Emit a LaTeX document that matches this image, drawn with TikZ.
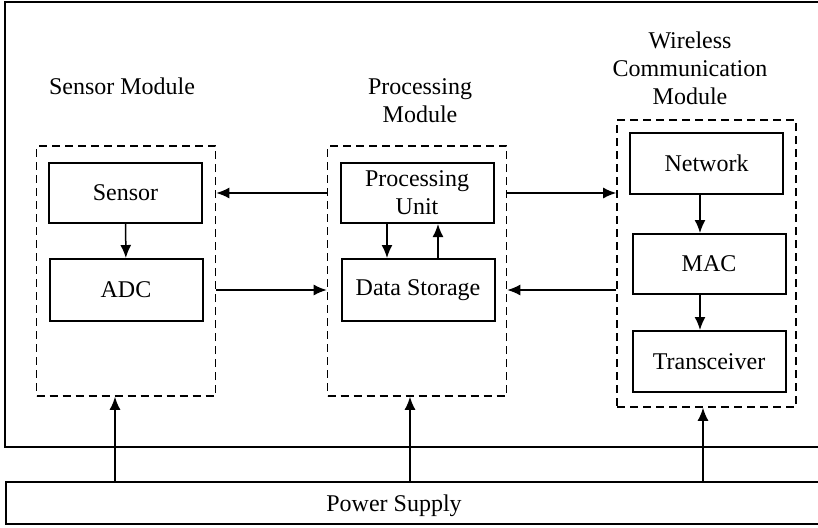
\documentclass[tikz,border=0pt]{standalone}
\usepackage{fontspec}
\setmainfont{Liberation Serif}
\usetikzlibrary{arrows.meta}
\begin{document}
\begin{tikzpicture}
  [x=0.5pt,y=-0.5pt,>={Latex[length=6.5pt,width=5.5pt]},
   every node/.style={font=\fontsize{12}{14}\selectfont},
   unit/.style={draw,line width=1pt,minimum width=76.5pt,minimum height=30pt,inner sep=1pt,align=center},
   module/.style={draw,line width=0.8pt,dash pattern=on 4pt off 2.5pt,minimum width=89.5pt},
   link/.style={->,line width=0.75pt}]
  \useasboundingbox (0,0) rectangle (818,527);
  \clip (0,0) rectangle (818,527);
  \draw[line width=1pt] (5,2) rectangle (826,447);
  % modules
  \node (sensmod)[module,minimum height=125pt] at (126,271) {};
  \node (procmod)[module,minimum height=125pt] at (417,271) {};
  \node (wlmod)[module,minimum height=143.5pt] at (706.5,263.5) {};
  \node (senslbl) at (122,86) {Sensor Module};
  \node (proclbl)[align=center] at (420,101) {Processing\\Module};
  \node (wllbl)[align=center] at (690,68) {Wireless\\Communication\\Module};
  % units
  \node (sensor)[unit] at (125.5,193) {Sensor};
  \node (adc)[unit,minimum height=31pt] at (126,290) {ADC};
  \node (pu)[unit] at (417,193) {Processing\\Unit};
  \node (ds)[unit,minimum height=31pt] at (418,290) {Data Storage};
  \node (net)[unit,minimum height=30.5pt] at (706.5,163.5) {Network};
  \node (mac)[unit] at (709,264) {MAC};
  \node (trx)[unit,minimum height=30.5pt] at (709,361.5) {Transceiver};
  \node (ps)[draw,line width=1pt,minimum width=410pt,minimum height=21pt,text depth=0pt] at (416,503) {\hspace{-22pt}Power Supply};
  % links
  \draw[link] (sensor) -- (adc);
  \foreach \from/\to/\dx in {net/mac/-3.25pt,mac/trx/-4.5pt}
    \draw[link] ([xshift=\dx]\from.south) -- ([xshift=\dx]\from.south |- \to.north);
  \draw[link] ([xshift=-15pt]pu.south) -- ([xshift=-15pt]pu.south |- ds.north);
  \draw[link] ([xshift=10pt]ds.north) -- ([xshift=10pt]ds.north |- pu.south);
  \draw[link] (procmod.west |- sensor) -- (sensmod.east |- sensor);
  \draw[link] (sensmod.east |- adc) -- (procmod.west |- adc);
  \draw[link] (procmod.east |- pu) -- (wlmod.west |- pu);
  \draw[link] (wlmod.west |- ds) -- (procmod.east |- ds);
  % power
  \foreach \m/\dx in {sensmod/-5.5pt,procmod/-3.5pt,wlmod/-1.75pt}
    \draw[link] ([xshift=\dx]\m.south |- ps.north) -- ([xshift=\dx]\m.south);
\end{tikzpicture}
\end{document}
